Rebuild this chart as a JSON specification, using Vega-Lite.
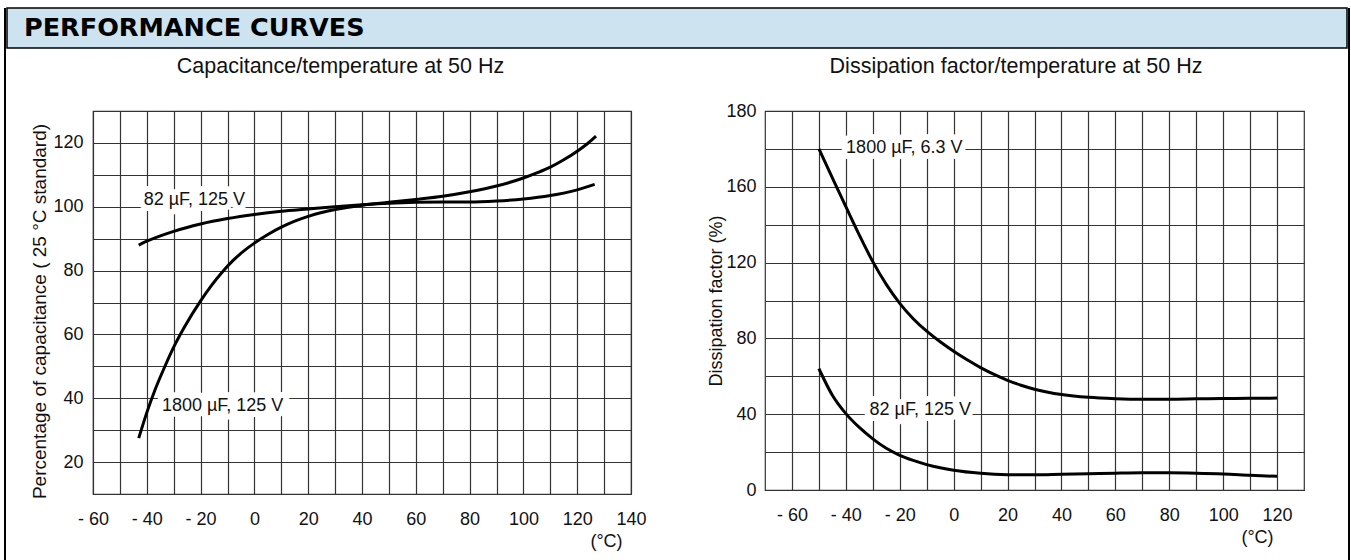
{
  "$schema": "https://vega.github.io/schema/vega-lite/v6.json",
  "padding": {"left": 4, "top": 7, "right": 0, "bottom": 0},
  "background": "white",
  "config": {
    "font": "Liberation Sans",
    "view": {"stroke": "#333333", "strokeWidth": 1.2},
    "axis": {
      "domain": false, "ticks": false, "tickSize": 0, "grid": true,
      "gridColor": "#333333", "gridWidth": 1.2, "gridOpacity": 1,
      "labelFont": "Liberation Sans", "labelFontSize": 18, "labelColor": "#111",
      "titleFont": "Liberation Sans", "titleFontSize": 18, "titleFontWeight": "normal", "titleColor": "#111",
      "labelOverlap": false, "labelFlush": false, "labelBound": false
    },
    "title": {"font": "Liberation Sans", "fontSize": 21.5, "fontWeight": "normal", "color": "#111"}
  },
  "datasets": {
    "cap": [
      {"t": -43, "v": 27.5, "s": "1800 µF, 125 V"}, {"t": -40, "v": 35.5, "s": "1800 µF, 125 V"},
      {"t": -37, "v": 42.5, "s": "1800 µF, 125 V"}, {"t": -33, "v": 50.5, "s": "1800 µF, 125 V"},
      {"t": -30, "v": 56, "s": "1800 µF, 125 V"}, {"t": -26, "v": 62.3, "s": "1800 µF, 125 V"},
      {"t": -20, "v": 70.5, "s": "1800 µF, 125 V"}, {"t": -16, "v": 75.3, "s": "1800 µF, 125 V"},
      {"t": -12, "v": 79.5, "s": "1800 µF, 125 V"}, {"t": -8, "v": 83.1, "s": "1800 µF, 125 V"},
      {"t": -4, "v": 86.1, "s": "1800 µF, 125 V"}, {"t": 0, "v": 88.6, "s": "1800 µF, 125 V"},
      {"t": 5, "v": 91.3, "s": "1800 µF, 125 V"}, {"t": 10, "v": 93.6, "s": "1800 µF, 125 V"},
      {"t": 15, "v": 95.5, "s": "1800 µF, 125 V"}, {"t": 20, "v": 97, "s": "1800 µF, 125 V"},
      {"t": 25, "v": 98.2, "s": "1800 µF, 125 V"}, {"t": 30, "v": 99.1, "s": "1800 µF, 125 V"},
      {"t": 40, "v": 100.5, "s": "1800 µF, 125 V"}, {"t": 50, "v": 101.4, "s": "1800 µF, 125 V"},
      {"t": 60, "v": 102.3, "s": "1800 µF, 125 V"}, {"t": 70, "v": 103.3, "s": "1800 µF, 125 V"},
      {"t": 80, "v": 104.7, "s": "1800 µF, 125 V"}, {"t": 90, "v": 106.5, "s": "1800 µF, 125 V"},
      {"t": 100, "v": 109, "s": "1800 µF, 125 V"}, {"t": 105, "v": 110.6, "s": "1800 µF, 125 V"},
      {"t": 110, "v": 112.4, "s": "1800 µF, 125 V"}, {"t": 115, "v": 114.7, "s": "1800 µF, 125 V"},
      {"t": 120, "v": 117.4, "s": "1800 µF, 125 V"}, {"t": 124, "v": 119.9, "s": "1800 µF, 125 V"},
      {"t": 127, "v": 122.1, "s": "1800 µF, 125 V"},
      {"t": -43, "v": 88, "s": "82 µF, 125 V"}, {"t": -40, "v": 89.2, "s": "82 µF, 125 V"},
      {"t": -30, "v": 92.3, "s": "82 µF, 125 V"}, {"t": -20, "v": 94.6, "s": "82 µF, 125 V"},
      {"t": -10, "v": 96.3, "s": "82 µF, 125 V"}, {"t": 0, "v": 97.6, "s": "82 µF, 125 V"},
      {"t": 10, "v": 98.6, "s": "82 µF, 125 V"}, {"t": 20, "v": 99.3, "s": "82 µF, 125 V"},
      {"t": 30, "v": 100, "s": "82 µF, 125 V"}, {"t": 40, "v": 100.6, "s": "82 µF, 125 V"},
      {"t": 50, "v": 101.1, "s": "82 µF, 125 V"}, {"t": 60, "v": 101.4, "s": "82 µF, 125 V"},
      {"t": 70, "v": 101.5, "s": "82 µF, 125 V"}, {"t": 80, "v": 101.5, "s": "82 µF, 125 V"},
      {"t": 90, "v": 101.8, "s": "82 µF, 125 V"}, {"t": 100, "v": 102.4, "s": "82 µF, 125 V"},
      {"t": 110, "v": 103.5, "s": "82 µF, 125 V"}, {"t": 120, "v": 105.3, "s": "82 µF, 125 V"},
      {"t": 126.5, "v": 107, "s": "82 µF, 125 V"}
    ],
    "capLab": [
      {"t": -22.3, "v": 102, "label": "82 µF, 125 V"},
      {"t": -11.8, "v": 37.7, "label": "1800 µF, 125 V"}
    ],
    "df": [
      {"t": -50, "v": 180, "s": "1800 µF, 6.3 V"}, {"t": -45, "v": 164.7, "s": "1800 µF, 6.3 V"},
      {"t": -40, "v": 149.5, "s": "1800 µF, 6.3 V"}, {"t": -35, "v": 134.5, "s": "1800 µF, 6.3 V"},
      {"t": -30, "v": 120.5, "s": "1800 µF, 6.3 V"}, {"t": -25, "v": 108.5, "s": "1800 µF, 6.3 V"},
      {"t": -20, "v": 98.5, "s": "1800 µF, 6.3 V"}, {"t": -15, "v": 90.4, "s": "1800 µF, 6.3 V"},
      {"t": -10, "v": 83.8, "s": "1800 µF, 6.3 V"}, {"t": -5, "v": 78.2, "s": "1800 µF, 6.3 V"},
      {"t": 0, "v": 73.2, "s": "1800 µF, 6.3 V"}, {"t": 5, "v": 68.7, "s": "1800 µF, 6.3 V"},
      {"t": 10, "v": 64.6, "s": "1800 µF, 6.3 V"}, {"t": 15, "v": 61, "s": "1800 µF, 6.3 V"},
      {"t": 20, "v": 57.9, "s": "1800 µF, 6.3 V"}, {"t": 25, "v": 55.3, "s": "1800 µF, 6.3 V"},
      {"t": 30, "v": 53.2, "s": "1800 µF, 6.3 V"}, {"t": 35, "v": 51.6, "s": "1800 µF, 6.3 V"},
      {"t": 40, "v": 50.4, "s": "1800 µF, 6.3 V"}, {"t": 50, "v": 48.9, "s": "1800 µF, 6.3 V"},
      {"t": 60, "v": 48.2, "s": "1800 µF, 6.3 V"}, {"t": 70, "v": 47.9, "s": "1800 µF, 6.3 V"},
      {"t": 80, "v": 47.9, "s": "1800 µF, 6.3 V"}, {"t": 90, "v": 48.1, "s": "1800 µF, 6.3 V"},
      {"t": 100, "v": 48.3, "s": "1800 µF, 6.3 V"}, {"t": 110, "v": 48.4, "s": "1800 µF, 6.3 V"},
      {"t": 120, "v": 48.5, "s": "1800 µF, 6.3 V"},
      {"t": -50, "v": 64, "s": "82 µF, 125 V"}, {"t": -45, "v": 50, "s": "82 µF, 125 V"},
      {"t": -40, "v": 40.3, "s": "82 µF, 125 V"}, {"t": -35, "v": 33, "s": "82 µF, 125 V"},
      {"t": -30, "v": 27, "s": "82 µF, 125 V"}, {"t": -25, "v": 22, "s": "82 µF, 125 V"},
      {"t": -20, "v": 18.3, "s": "82 µF, 125 V"}, {"t": -15, "v": 15.6, "s": "82 µF, 125 V"},
      {"t": -10, "v": 13.4, "s": "82 µF, 125 V"}, {"t": -5, "v": 11.7, "s": "82 µF, 125 V"},
      {"t": 0, "v": 10.4, "s": "82 µF, 125 V"}, {"t": 10, "v": 8.8, "s": "82 µF, 125 V"},
      {"t": 20, "v": 8.1, "s": "82 µF, 125 V"}, {"t": 30, "v": 8, "s": "82 µF, 125 V"},
      {"t": 40, "v": 8.3, "s": "82 µF, 125 V"}, {"t": 50, "v": 8.6, "s": "82 µF, 125 V"},
      {"t": 60, "v": 8.9, "s": "82 µF, 125 V"}, {"t": 70, "v": 9.1, "s": "82 µF, 125 V"},
      {"t": 80, "v": 9.1, "s": "82 µF, 125 V"}, {"t": 90, "v": 8.9, "s": "82 µF, 125 V"},
      {"t": 100, "v": 8.5, "s": "82 µF, 125 V"}, {"t": 110, "v": 7.8, "s": "82 µF, 125 V"},
      {"t": 120, "v": 7.2, "s": "82 µF, 125 V"}
    ],
    "dfLab": [
      {"t": -18.3, "v": 180.6, "label": "1800 µF, 6.3 V"},
      {"t": -12.4, "v": 42, "label": "82 µF, 125 V"}
    ],
    "header": [{"h": "PERFORMANCE CURVES"}]
  },
  "spacing": 0,
  "hconcat": [
    {"width": 2, "height": 553, "data": {"values": []}, "mark": "point", "view": {"fill": "#000", "stroke": null}},
    {
      "spacing": 5,
      "vconcat": [
        {
          "width": 1340, "height": 40,
          "data": {"name": "header"},
          "mark": {"type": "text", "align": "left", "baseline": "alphabetic", "font": "DejaVu Sans", "fontSize": 25.5, "fontWeight": "bold", "color": "#000", "dx": 17, "dy": -11.75},
          "encoding": {
            "text": {"field": "h"},
            "x": {"datum": 0, "type": "quantitative", "scale": {"domain": [0, 1]}, "axis": null},
            "y": {"datum": 0, "type": "quantitative", "scale": {"domain": [0, 1]}, "axis": null}
          },
          "view": {"fill": "#cde3f0", "stroke": "#000", "strokeWidth": 1.5}
        },
        {
          "spacing": 60,
          "hconcat": [
            {
              "spacing": 22,
              "hconcat": [
                {"width": 1, "height": 1, "data": {"values": []}, "mark": "point", "view": {"fill": null, "stroke": null}},
                {
                  "width": 538, "height": 383,
                  "title": {"text": "Capacitance/temperature at 50 Hz", "baseline": "alphabetic", "frame": "group", "anchor": "middle", "dx": -21.5, "offset": 17},
                  "encoding": {
                    "x": {"field": "t", "type": "quantitative",
                      "scale": {"domain": [-60, 140], "nice": false, "zero": false},
                      "axis": {"values": [-60,-50,-40,-30,-20,-10,0,10,20,30,40,50,60,70,80,90,100,110,120,130,140],
                        "labelPadding": 16,
                        "labelExpr": "datum.value % 20 == 0 ? (datum.value < 0 ? '- ' + abs(datum.value) : datum.label) : ''",
                        "title": "(°C)", "titleX": 513, "titleY": 47, "titleAlign": "center", "titleBaseline": "middle"}},
                    "y": {"field": "v", "type": "quantitative",
                      "scale": {"domain": [10, 130], "nice": false, "zero": false},
                      "axis": {"values": [20,30,40,50,60,70,80,90,100,110,120],
                        "labelPadding": 10, "titlePadding": 3, "titleFontSize": 19, "titleY": 200,
                        "labelExpr": "datum.value % 20 == 0 ? datum.label : ''",
                        "title": "Percentage of capacitance ( 25 °C standard)"}}
                  },
                  "layer": [
                    {"data": {"name": "capLab"}, "mark": {"type": "text", "fontSize": 18, "stroke": "white", "strokeWidth": 12, "strokeJoin": "round", "fill": "white", "baseline": "middle"},
                      "encoding": {"text": {"field": "label"}}},
                    {"data": {"name": "cap"}, "mark": {"type": "line", "interpolate": "monotone", "color": "#000", "strokeWidth": 3},
                      "encoding": {"detail": {"field": "s"}}},
                    {"data": {"name": "capLab"}, "mark": {"type": "text", "fontSize": 18, "color": "#111", "baseline": "middle"},
                      "encoding": {"text": {"field": "label"}}}
                  ]
                }
              ]
            },
            {
              "width": 539, "height": 379,
              "title": {"text": "Dissipation factor/temperature at 50 Hz", "baseline": "alphabetic", "frame": "group", "anchor": "middle", "dx": -18.5, "offset": 8},
              "encoding": {
                "x": {"field": "t", "type": "quantitative",
                  "scale": {"domain": [-70, 130], "nice": false, "zero": false},
                  "axis": {"values": [-60,-50,-40,-30,-20,-10,0,10,20,30,40,50,60,70,80,90,100,110,120],
                    "labelPadding": 16,
                    "labelExpr": "datum.value % 20 == 0 ? (datum.value < 0 ? '- ' + abs(datum.value) : datum.label) : ''",
                    "title": "(°C)", "titleX": 492, "titleY": 47, "titleAlign": "center", "titleBaseline": "middle"}},
                "y": {"field": "v", "type": "quantitative",
                  "scale": {"domain": [0, 200], "nice": false, "zero": false},
                  "axis": {"values": [0,20,40,60,80,100,120,140,160,180,200],
                    "labelPadding": 9, "titlePadding": 0,
                    "labelExpr": "datum.value == 200 ? '180' : (datum.value % 40 == 0 ? datum.label : '')",
                    "title": "Dissipation factor (%)"}}
              },
              "layer": [
                {"data": {"name": "dfLab"}, "mark": {"type": "text", "fontSize": 18, "stroke": "white", "strokeWidth": 12, "strokeJoin": "round", "fill": "white", "baseline": "middle"},
                  "encoding": {"text": {"field": "label"}}},
                {"data": {"name": "df"}, "mark": {"type": "line", "interpolate": "monotone", "color": "#000", "strokeWidth": 3},
                  "encoding": {"detail": {"field": "s"}}},
                {"data": {"name": "dfLab"}, "mark": {"type": "text", "fontSize": 18, "color": "#111", "baseline": "middle"},
                  "encoding": {"text": {"field": "label"}}}
              ]
            }
          ]
        }
      ]
    },
    {"width": 2, "height": 553, "data": {"values": []}, "mark": "point", "view": {"fill": "#000", "stroke": null}}
  ]
}
